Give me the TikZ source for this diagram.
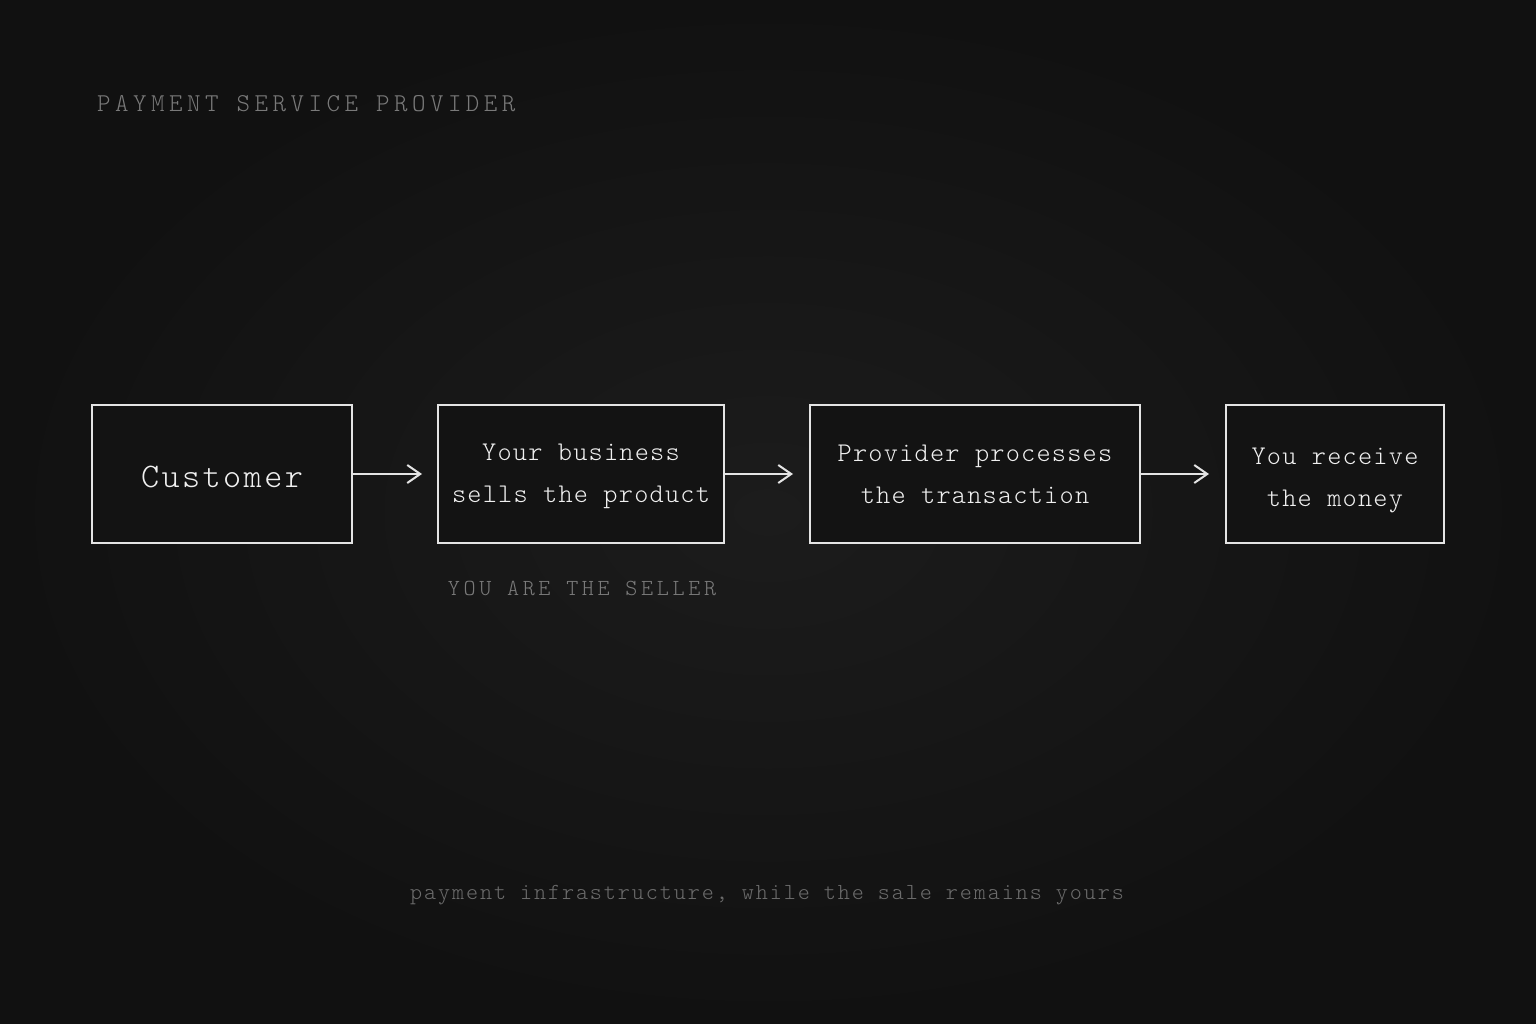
\documentclass[tikz,border=0pt]{standalone}
\usepackage{fontspec}
\usetikzlibrary{arrows.meta}
\newfontfamily\monoBox[LetterSpace=4.5]{lmmonolt10-regular.otf}
\newfontfamily\monoBig[LetterSpace=7]{lmmonolt10-regular.otf}
\newfontfamily\monoTitle[LetterSpace=17.5]{lmmonolt10-regular.otf}
\newfontfamily\monoSeller[LetterSpace=15.8]{lmmonolt10-regular.otf}
\newfontfamily\monoFoot[LetterSpace=8.3]{lmmonolt10-regular.otf}
\definecolor{bgin}{HTML}{1C1C1C}
\definecolor{bgout}{HTML}{111111}
\definecolor{boxfill}{HTML}{131313}
\definecolor{strokec}{HTML}{E4E4E4}
\definecolor{textc}{HTML}{F0F0F0}
\definecolor{dimc}{HTML}{7A7A7A}
\definecolor{footc}{HTML}{6C6C6C}
\tikzset{
  flowbox/.style={draw=strokec, line width=2pt, fill=boxfill, inner sep=0pt,
    minimum height=138pt},
  boxtext/.style={inner sep=0pt, align=center, text=textc,
    font={\monoBox\fontsize{27}{42}\selectfont}},
  flowarrow/.style={draw=strokec, line width=2pt,
    -{Straight Barb[length=13pt, width=18pt, line width=2pt]}},
  dimtext/.style={text=dimc, inner sep=0pt},
}
\begin{document}
\begin{tikzpicture}[x=1pt, y=-1pt]
\useasboundingbox (0,0) rectangle (1536,1024);
\shade[inner color=bgin, outer color=bgout] (0,0) rectangle (1536,1024);

\node[dimtext, anchor=base west, font={\monoTitle\fontsize{25.7}{30}\selectfont}] (title) at (97,112) {PAYMENT SERVICE PROVIDER};

\node[flowbox, minimum width=260pt] (cust) at (222,474) {};
\node[flowbox, minimum width=286pt] (biz) at (581,474) {};
\node[flowbox, minimum width=330pt] (prov) at (975,474) {};
\node[flowbox, minimum width=218pt] (recv) at (1335,474) {};

\node[boxtext, anchor=base, font={\monoBig\fontsize{34.5}{40}\selectfont}] (custtext) at (222,487) {Customer};
\node[boxtext] (biztext) at ([yshift=-2pt]biz.center) {Your business\\sells the product};
\node[boxtext] (provtext) at ([yshift=0pt]prov.center) {Provider processes\\the transaction};
\node[boxtext] (recvtext) at ([yshift=-6pt]recv.center) {You receive\\the money};

\coordinate (a1) at (422,474);
\coordinate (a2) at (793,474);
\coordinate (a3) at (1209,474);
\draw[flowarrow] (cust.east) -- (a1);
\draw[flowarrow] (biz.east) -- (a2);
\draw[flowarrow] (prov.east) -- (a3);

\node[dimtext, anchor=base, font={\monoSeller\fontsize{23}{28}\selectfont}] (seller) at (582,595) {YOU ARE THE SELLER};
\node[dimtext, text=footc, anchor=base, font={\monoFoot\fontsize{23}{26}\selectfont}] (foot) at (767,899) {payment infrastructure, while the sale remains yours};
\end{tikzpicture}
\end{document}
